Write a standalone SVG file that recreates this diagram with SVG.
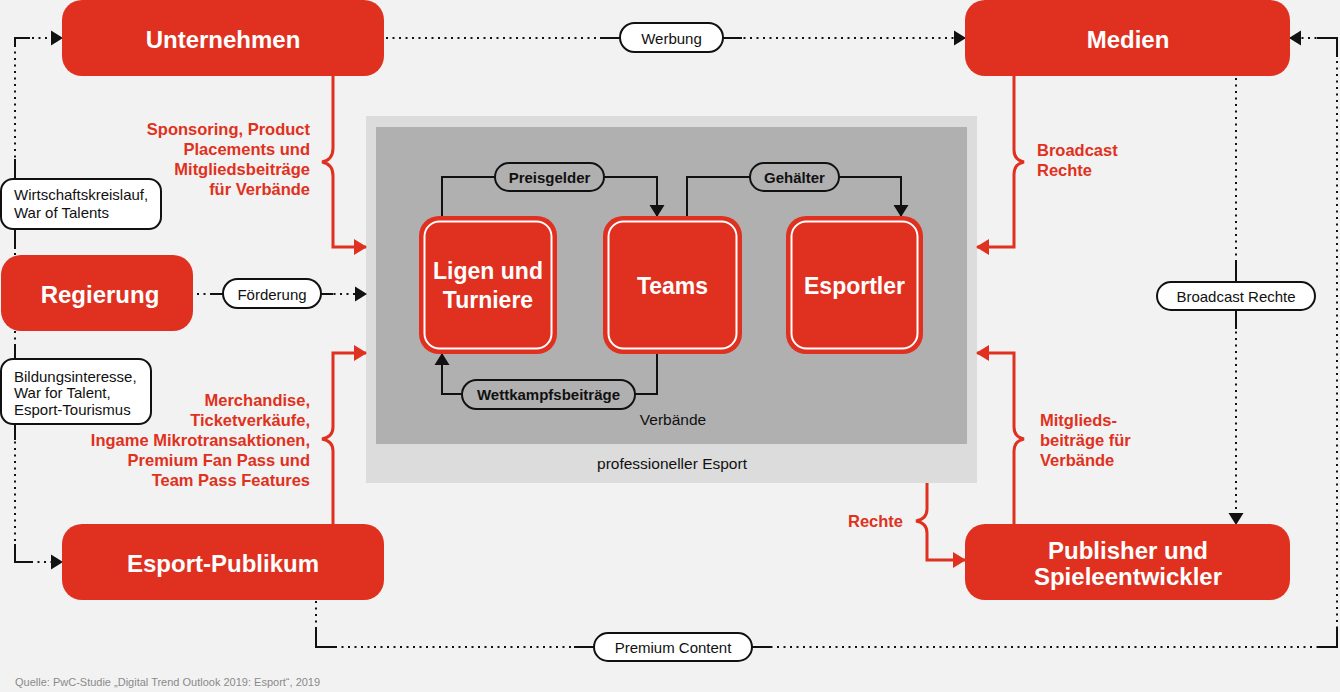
<svg xmlns="http://www.w3.org/2000/svg" width="1340" height="692" viewBox="0 0 1340 692">
<defs>
<style>
text{font-family:"Liberation Sans",Arial,Helvetica,sans-serif}
.box{fill:#e03120}
.nt{fill:#fff;font-weight:bold;font-size:24px;text-anchor:middle}
.it{fill:#fff;font-weight:bold;font-size:23px;text-anchor:middle}
.inner{fill:none;stroke:#fff;stroke-width:2}
.rl{fill:#e03120;font-weight:bold;font-size:16.5px}
.end{text-anchor:end}
.lbl{fill:#fff;stroke:#111;stroke-width:2}
.lt{font-size:15px;fill:#111}
.mid{text-anchor:middle}
.ipill{fill:#b0b0b0;stroke:#111;stroke-width:2}
.ipt{font-size:15px;font-weight:bold;fill:#111;text-anchor:middle}
.dot{fill:none;stroke:#111;stroke-width:2;stroke-dasharray:2 4.5}
.sol{fill:none;stroke:#111;stroke-width:2}
.rline{fill:none;stroke:#e03120;stroke-width:3}
</style>
<marker id="ab" markerUnits="userSpaceOnUse" viewBox="0 0 12 16" markerWidth="12" markerHeight="16" refX="11" refY="8" orient="auto"><path d="M0,0.5 L12,8 L0,15.5z" fill="#111"/></marker>
<marker id="ar" markerUnits="userSpaceOnUse" viewBox="0 0 13 16" markerWidth="13" markerHeight="16" refX="12" refY="8" orient="auto"><path d="M0,0 L13,8 L0,16z" fill="#e03120"/></marker>
</defs>
<rect x="0" y="0" width="1340" height="692" fill="#f2f2f2"/>
<g id="professioneller-esport">
<rect x="366" y="116" width="611" height="367" fill="#dcdcdc"/>
<text class="lt mid" x="672" y="469" style="font-size:15.5px">professioneller Esport</text>
</g>
<g id="verbaende">
<rect x="376" y="127" width="591" height="317" fill="#b0b0b0"/>
<text class="lt mid" x="673" y="425" style="font-size:15.5px">Verbände</text>
</g>
<g id="connectors">
<path class="dot" d="M15,255 V38 H62" marker-end="url(#ab)"/>
<path class="sol" d="M15,46 V38 H30 M15,159 V179 M15,229 V249"/>
<path class="dot" d="M15,331 V562 H62" marker-end="url(#ab)"/>
<path class="sol" d="M15,345 V359 M15,424 V440 M15,544 V562 H33"/>
<rect class="lbl" x="1" y="179" width="160" height="50" rx="12"/>
<text class="lt" x="14" y="199.5">Wirtschaftskreislauf,</text>
<text class="lt" x="14" y="217.5">War of Talents</text>
<rect class="lbl" x="1" y="359" width="150" height="65" rx="12"/>
<text class="lt" x="14" y="381.5">Bildungsinteresse,</text>
<text class="lt" x="14" y="398">War for Talent,</text>
<text class="lt" x="14" y="414.5">Esport-Tourismus</text>
<path class="dot" d="M386,38 H965" marker-end="url(#ab)"/>
<path class="sol" d="M600,38 H620 M723,38 H742"/>
<rect class="lbl" x="620" y="23" width="103" height="29" rx="14.5"/>
<text class="lt mid" x="671.5" y="43.5">Werbung</text>
<path class="dot" d="M197,294 H366" marker-end="url(#ab)"/>
<path class="sol" d="M211,294 H223 M321,294 H333"/>
<rect class="lbl" x="223" y="279" width="98" height="29" rx="14.5"/>
<text class="lt mid" x="272" y="299.5">Förderung</text>
<path class="dot" d="M1236,78 V524" marker-end="url(#ab)"/>
<path class="sol" d="M1236,262 V282 M1236,310 V329"/>
<rect class="lbl" x="1157" y="282" width="158" height="28" rx="14"/>
<text class="lt mid" x="1236" y="301.5">Broadcast Rechte</text>
<path class="dot" d="M316,601 V647 H1337 V38 H1290" marker-end="url(#ab)"/>
<path class="sol" d="M316,627 V647 H335 M574,647 H594 M752,647 H771 M1318,647 H1337 V628 M1337,57 V38 H1317"/>
<rect class="lbl" x="594" y="633" width="158" height="28" rx="14"/>
<text class="lt mid" x="673" y="652.5">Premium Content</text>
<path class="rline" d="M333,76 V148 Q333,160 322,162 Q333,164 333,176 V247 H366" marker-end="url(#ar)"/>
<path class="rline" d="M333,524 V451 Q333,441 322,439 Q333,437 333,427 V353 H366" marker-end="url(#ar)"/>
<path class="rline" d="M1014,76 V150 Q1014,160 1024,162 Q1014,164 1014,174 V247 H977" marker-end="url(#ar)"/>
<path class="rline" d="M1014,524 V451 Q1014,441 1024,439 Q1014,437 1014,427 V353 H977" marker-end="url(#ar)"/>
<path class="rline" d="M927,483 V509 Q927,519 916,521 Q927,523 927,533 V560 H965" marker-end="url(#ar)"/>
<text class="rl end" x="310" y="135">Sponsoring, Product</text>
<text class="rl end" x="310" y="155">Placements und</text>
<text class="rl end" x="310" y="175">Mitgliedsbeiträge</text>
<text class="rl end" x="310" y="195">für Verbände</text>
<text class="rl end" x="310" y="406">Merchandise,</text>
<text class="rl end" x="310" y="426">Ticketverkäufe,</text>
<text class="rl end" x="310" y="446">Ingame Mikrotransaktionen,</text>
<text class="rl end" x="310" y="466">Premium Fan Pass und</text>
<text class="rl end" x="310" y="486">Team Pass Features</text>
<text class="rl" x="1037" y="156">Broadcast</text>
<text class="rl" x="1037" y="176">Rechte</text>
<text class="rl" x="1040" y="426">Mitglieds-</text>
<text class="rl" x="1040" y="446">beiträge für</text>
<text class="rl" x="1040" y="466">Verbände</text>
<text class="rl end" x="903" y="527">Rechte</text>
<path class="sol" d="M442,216 V177 H657 V216" marker-end="url(#ab)"/>
<path class="sol" d="M687,216 V177 H901 V216" marker-end="url(#ab)"/>
<path class="sol" d="M657,354 V394 H442 V354" marker-end="url(#ab)"/>
<rect class="ipill" x="495" y="163" width="109" height="28" rx="14"/>
<text class="ipt" x="549.5" y="182.5">Preisgelder</text>
<rect class="ipill" x="750" y="163" width="89" height="28" rx="14"/>
<text class="ipt" x="794.5" y="182.5">Gehälter</text>
<rect class="ipill" x="462" y="380" width="173" height="29" rx="14.5"/>
<text class="ipt" x="548.5" y="400">Wettkampfsbeiträge</text>
</g>
<g id="unternehmen">
<rect class="box" x="62" y="0" width="322" height="76" rx="20"/>
<text class="nt" x="223" y="47.5">Unternehmen</text>
</g>
<g id="medien">
<rect class="box" x="965" y="0" width="325" height="76" rx="20"/>
<text class="nt" x="1128" y="47.5">Medien</text>
</g>
<g id="regierung">
<rect class="box" x="1" y="255" width="192" height="76" rx="20"/>
<text class="nt" x="100" y="302.5">Regierung</text>
</g>
<g id="esport-publikum">
<rect class="box" x="62" y="524" width="322" height="76" rx="20"/>
<text class="nt" x="223" y="571.5">Esport-Publikum</text>
</g>
<g id="publisher">
<rect class="box" x="965" y="524" width="325" height="76" rx="20"/>
<text class="nt" x="1128" y="558.5">Publisher und</text>
<text class="nt" x="1128" y="584.5">Spieleentwickler</text>
</g>
<g id="ligen">
<rect class="box" x="419" y="216" width="138" height="138" rx="20"/>
<rect class="inner" x="424.5" y="221.5" width="127" height="127" rx="15"/>
<text class="it" x="488" y="279">Ligen und</text>
<text class="it" x="488" y="308">Turniere</text>
</g>
<g id="teams">
<rect class="box" x="603" y="216" width="139" height="138" rx="20"/>
<rect class="inner" x="608.5" y="221.5" width="128" height="127" rx="15"/>
<text class="it" x="672.5" y="294">Teams</text>
</g>
<g id="esportler">
<rect class="box" x="786" y="216" width="137" height="138" rx="20"/>
<rect class="inner" x="791.5" y="221.5" width="126" height="127" rx="15"/>
<text class="it" x="854.5" y="294">Esportler</text>
</g>
<text x="15" y="686" style="font-size:11px;fill:#8a8a8a">Quelle: PwC-Studie „Digital Trend Outlook 2019: Esport“, 2019</text>
</svg>
